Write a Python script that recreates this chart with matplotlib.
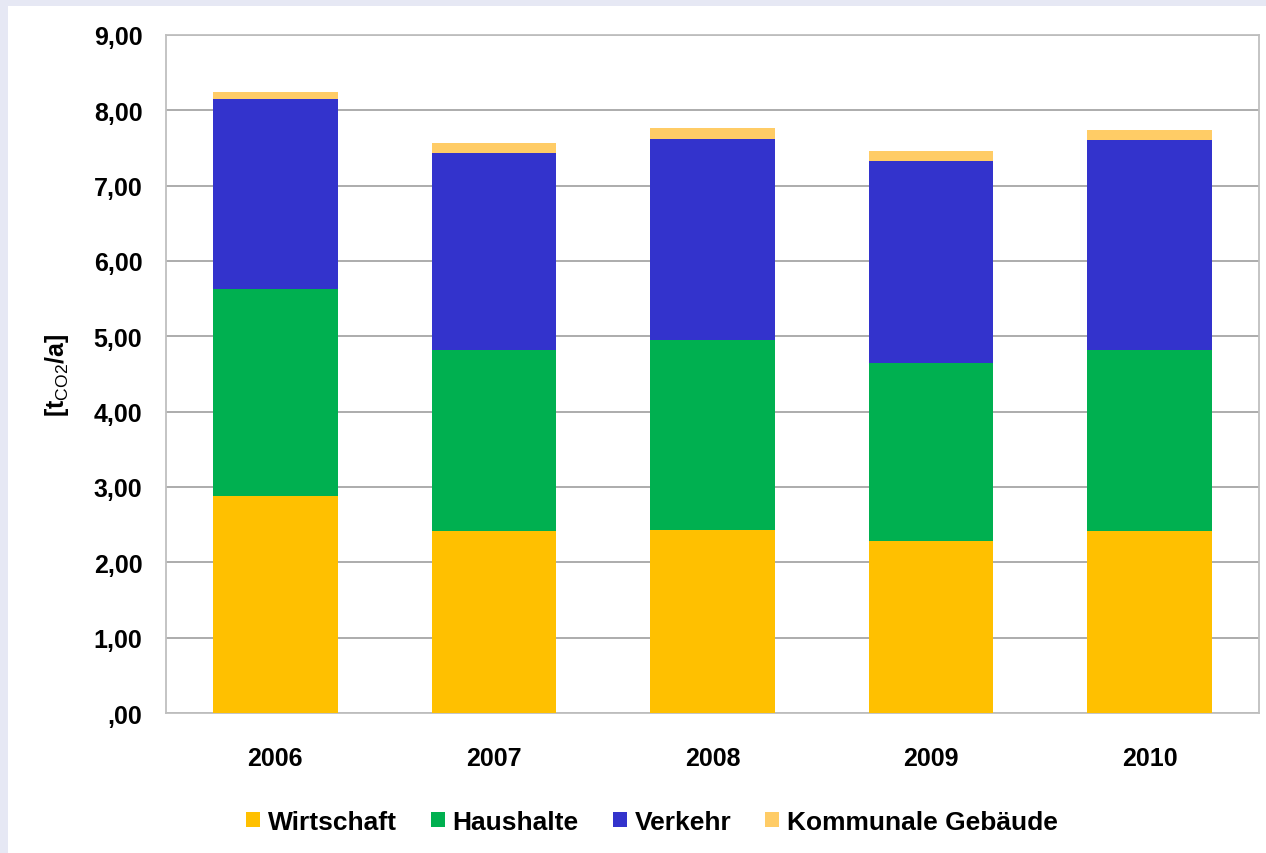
import matplotlib
matplotlib.use("Agg")
import matplotlib.pyplot as plt
from matplotlib.patches import Rectangle
import numpy as np

years = ["2006", "2007", "2008", "2009", "2010"]
wirtschaft = [2.88, 2.42, 2.43, 2.28, 2.42]
haushalte = [2.75, 2.40, 2.52, 2.37, 2.40]
verkehr = [2.52, 2.61, 2.67, 2.68, 2.78]
kommunal = [0.10, 0.14, 0.15, 0.13, 0.14]
series_names = ["Wirtschaft", "Haushalte", "Verkehr", "Kommunale Gebäude"]
colors = ["#FFC000", "#00B050", "#3333CC", "#FFCC66"]
yticks = [0, 1, 2, 3, 4, 5, 6, 7, 8, 9]
ytick_labels = [",00", "1,00", "2,00", "3,00", "4,00", "5,00", "6,00", "7,00", "8,00", "9,00"]

plt.rcParams['font.family'] = ['Liberation Sans', 'DejaVu Sans']
plt.rcParams['mathtext.fontset'] = 'custom'
plt.rcParams['mathtext.rm'] = 'Liberation Sans'
plt.rcParams['mathtext.bf'] = 'Liberation Sans:bold'

W, H = 1266, 854
fig = plt.figure(figsize=(W / 100, H / 100), dpi=100)
fig.patch.set_facecolor("#E6E8F4")
fig.patches.append(Rectangle((8 / W, 0), 1 - 8 / W, (H - 7) / H, transform=fig.transFigure,
                             facecolor="white", edgecolor="none", zorder=-10))

left, right, top, bottom = 166, 1259, 36, 714
ax = fig.add_axes([left / W, 1 - bottom / H, (right - left) / W, (bottom - top) / H])
ax.set_facecolor("white")

x = np.arange(len(years))
data = [wirtschaft, haushalte, verkehr, kommunal]
base = np.zeros(len(years))
handles = []
for vals, c, name in zip(data, colors, series_names):
    b = ax.bar(x, vals, width=0.57, bottom=base, color=c, label=name, zorder=3, linewidth=0)
    handles.append(b)
    base = base + np.array(vals)

ax.set_xlim(-0.5, len(years) - 0.5)
ax.set_ylim(0, 9)
ax.set_yticks(yticks)
ax.set_yticklabels(ytick_labels)
ax.set_xticks(x)
ax.set_xticklabels(years)
ax.yaxis.grid(True, color="#A6A6A6", linewidth=1.3, zorder=0)
ax.set_axisbelow(True)
for s in ax.spines.values():
    s.set_color("#BFBFBF")
    s.set_linewidth(1.3)
ax.tick_params(axis="both", length=0, labelsize=18)
ax.tick_params(axis="y", pad=17)
ax.tick_params(axis="x", pad=24)
for lab in ax.get_xticklabels() + ax.get_yticklabels():
    lab.set_fontweight("bold")

ax.set_ylabel(r"[t$_{\mathrm{CO2}}$/a]", fontsize=18, fontweight="bold")
ax.yaxis.set_label_coords(-95 / (right - left), 0.5)

fig.legend(handles=handles, labels=series_names, loc="center", ncol=4,
           bbox_to_anchor=(652 / W, 1 - 823 / H), frameon=False,
           prop={"size": 19, "weight": "bold"}, handlelength=0.53, handleheight=0.53,
           handletextpad=0.3, columnspacing=1.29)

fig.savefig("out.png", dpi=100, facecolor=fig.get_facecolor())
